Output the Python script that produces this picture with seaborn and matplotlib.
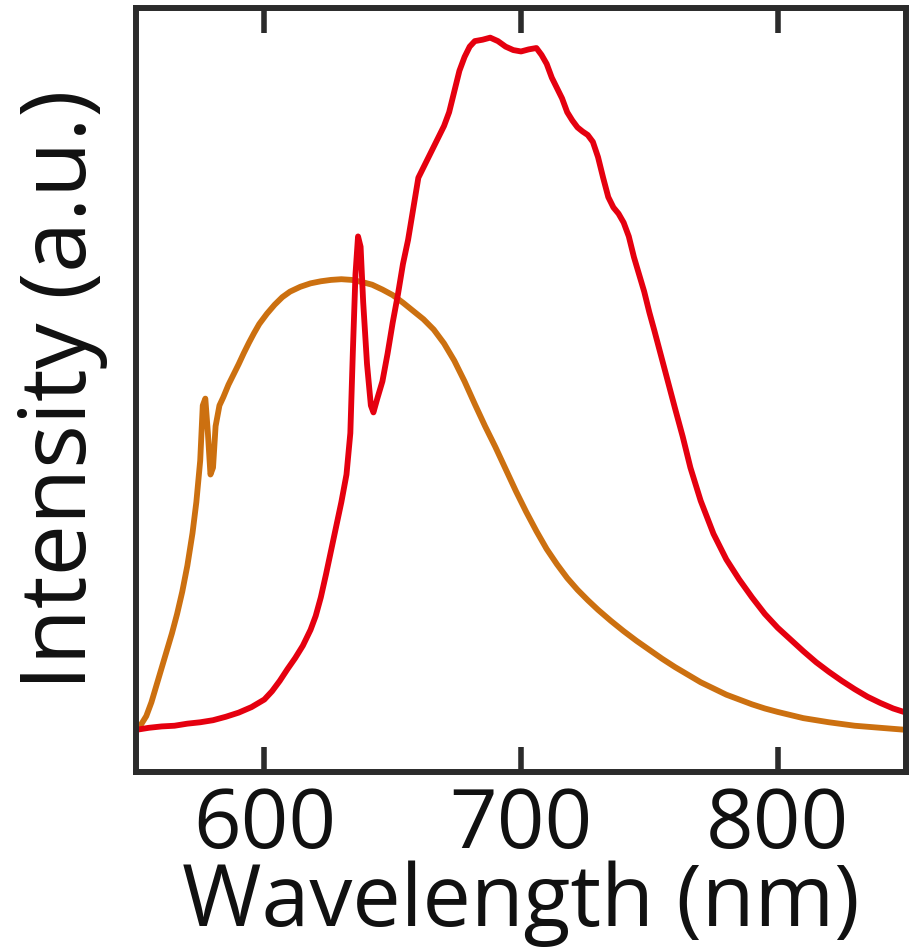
import pandas as pd
import seaborn as sns
import matplotlib.pyplot as plt

# orange spectrum (broad emission)
orange_nm = [550, 552, 554, 556, 558, 560, 562, 564, 566, 568, 570, 572, 573.5, 575, 576, 577,
             578, 579, 580, 581, 582.5, 584, 586, 588, 590, 592, 594, 596, 598, 601, 604, 607,
             610, 614, 618, 622, 626, 630, 634, 638, 642, 646, 650, 654, 658, 662, 666, 670,
             674, 678, 682, 686, 690, 694, 698, 702, 706, 710, 714, 718, 722, 726, 730, 735,
             740, 745, 750, 755, 760, 765, 770, 775, 780, 785, 790, 795, 800, 810, 820, 830,
             840, 850]
orange_int = [0.0, 0.008, 0.02, 0.04, 0.065, 0.09, 0.115, 0.14, 0.168, 0.2, 0.238, 0.285, 0.33,
              0.39, 0.47, 0.48, 0.43, 0.37, 0.38, 0.44, 0.47, 0.482, 0.5, 0.515, 0.53, 0.546,
              0.561, 0.575, 0.588, 0.603, 0.616, 0.627, 0.635, 0.642, 0.647, 0.65, 0.652, 0.653,
              0.652, 0.649, 0.645, 0.638, 0.630, 0.619, 0.607, 0.595, 0.58, 0.56, 0.535, 0.505,
              0.472, 0.44, 0.41, 0.378, 0.346, 0.316, 0.288, 0.262, 0.24, 0.22, 0.203, 0.188,
              0.174, 0.158, 0.143, 0.129, 0.116, 0.103, 0.091, 0.08, 0.069, 0.06, 0.051, 0.044,
              0.037, 0.031, 0.026, 0.017, 0.011, 0.006, 0.003, 0.0]

# red spectrum
red_nm = [550, 555, 560, 565, 570, 575, 580, 585, 590, 595, 600, 603, 606, 609, 612, 615, 618,
          620, 622, 624, 626, 628, 630, 632, 633.5, 634.5, 635.5, 636.5, 637.5, 638.5, 640,
          641.5, 642.5, 644, 646, 648, 650, 652, 654, 656, 658, 660, 662, 664, 666, 668, 670,
          672, 674, 676, 678, 680, 682, 685, 688, 691, 694, 697, 700, 703, 706, 708, 710, 712,
          714, 716, 718, 720, 722, 724, 726, 728, 730, 732, 734, 736, 738, 740, 742, 744, 746,
          748, 750, 752, 754, 756, 758, 760, 763, 766, 770, 775, 780, 785, 790, 795, 800, 805,
          810, 815, 820, 825, 830, 835, 840, 845, 850]
red_int = [0.0, 0.003, 0.005, 0.006, 0.009, 0.011, 0.014, 0.019, 0.025, 0.033, 0.044, 0.056,
           0.071, 0.088, 0.104, 0.122, 0.145, 0.165, 0.192, 0.225, 0.26, 0.295, 0.33, 0.37,
           0.43, 0.55, 0.66, 0.715, 0.70, 0.62, 0.53, 0.47, 0.46, 0.48, 0.505, 0.545, 0.59,
           0.63, 0.675, 0.71, 0.755, 0.80, 0.815, 0.83, 0.845, 0.86, 0.875, 0.895, 0.925,
           0.955, 0.975, 0.99, 0.998, 1.0, 1.003, 0.998, 0.99, 0.985, 0.983, 0.986, 0.988,
           0.978, 0.965, 0.945, 0.93, 0.915, 0.895, 0.883, 0.873, 0.867, 0.862, 0.852, 0.83,
           0.80, 0.772, 0.757, 0.748, 0.735, 0.715, 0.685, 0.66, 0.635, 0.605, 0.578, 0.55,
           0.522, 0.494, 0.466, 0.425, 0.38, 0.332, 0.284, 0.247, 0.218, 0.192, 0.168, 0.148,
           0.131, 0.114, 0.098, 0.084, 0.071, 0.059, 0.048, 0.039, 0.031, 0.025]

orange_df = pd.DataFrame({'nm': orange_nm, 'intensity': orange_int})
red_df = pd.DataFrame({'nm': red_nm, 'intensity': red_int})

sns.set_style('ticks')
plt.rcParams['font.family'] = ['Open Sans', 'DejaVu Sans']
plt.rcParams['text.color'] = '#111111'
plt.rcParams['axes.labelcolor'] = '#111111'
plt.rcParams['xtick.labelcolor'] = '#111111'

fig = plt.figure(figsize=(9.21, 9.5), dpi=100)
ax = fig.add_axes([0.1477, 0.1874, 0.836, 0.8042])

sns.lineplot(data=orange_df, x='nm', y='intensity', color='#cc7010', linewidth=4.2, ax=ax)
sns.lineplot(data=red_df, x='nm', y='intensity', color='#e5000f', linewidth=4.2, ax=ax)

ax.set_xlim(550, 850)
ax.set_ylim(-0.061, 1.046)
ax.set_xticks([600, 700, 800])
ax.set_yticks([])
ax.tick_params(axis='x', direction='in', top=True, bottom=True, length=18, width=4,
               color='#2b2b2b', labelsize=60, pad=10)
for s in ax.spines.values():
    s.set_linewidth(4.3)
    s.set_color('#2b2b2b')

ax.set_xlabel('Wavelength (nm)', fontsize=62, labelpad=-6)
ax.set_ylabel('Intensity (a.u.)', fontsize=66, labelpad=20)

fig.savefig('out.png', dpi=100)
